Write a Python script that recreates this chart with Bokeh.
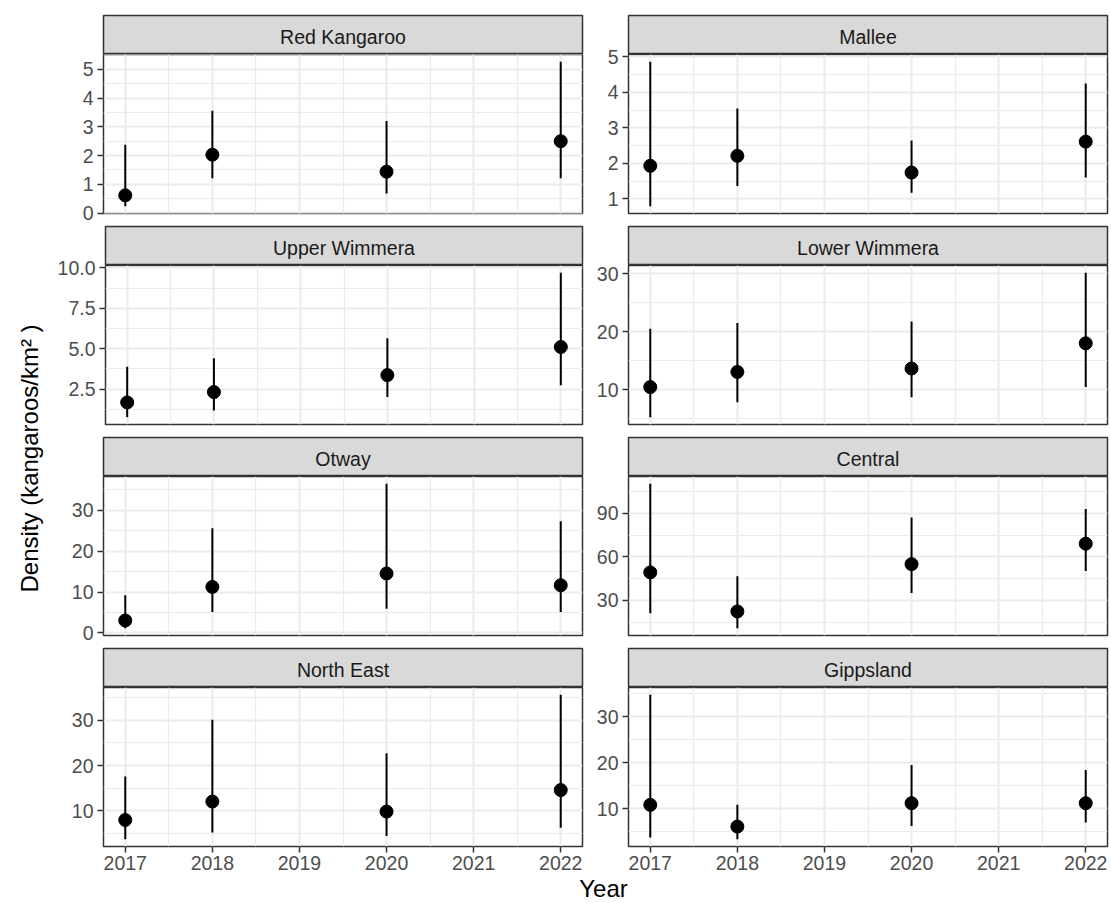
import math
from bokeh.plotting import figure
from bokeh.layouts import row, column
from bokeh.models import Range1d, FixedTicker, LinearAxis, Grid
from bokeh.core.properties import value
from bokeh.embed import file_html
from bokeh.resources import INLINE

# ---------------- data ----------------
years = [2017, 2018, 2020, 2022]
x_ticks = [2017, 2018, 2019, 2020, 2021, 2022]
x_tick_labels = ["2017", "2018", "2019", "2020", "2021", "2022"]
x_minor = [2016.5, 2017.5, 2018.5, 2019.5, 2020.5, 2021.5, 2022.5]

regions = ["Red Kangaroo", "Mallee", "Upper Wimmera", "Lower Wimmera",
           "Otway", "Central", "North East", "Gippsland"]

red_kangaroo_est = [0.62, 2.03, 1.44, 2.50]
red_kangaroo_lo = [0.24, 1.21, 0.68, 1.21]
red_kangaroo_hi = [2.38, 3.56, 3.20, 5.26]

mallee_est = [1.93, 2.21, 1.74, 2.61]
mallee_lo = [0.79, 1.36, 1.17, 1.60]
mallee_hi = [4.86, 3.54, 2.64, 4.25]

upper_wimmera_est = [1.67, 2.31, 3.36, 5.10]
upper_wimmera_lo = [0.75, 1.17, 2.00, 2.73]
upper_wimmera_hi = [3.88, 4.40, 5.65, 9.70]

lower_wimmera_est = [10.45, 13.06, 13.65, 18.0]
lower_wimmera_lo = [5.24, 7.85, 8.70, 10.45]
lower_wimmera_hi = [20.5, 21.5, 21.76, 30.17]

otway_est = [3.06, 11.26, 14.55, 11.67]
otway_lo = [1.15, 5.10, 5.90, 5.10]
otway_hi = [9.2, 25.6, 36.5, 27.3]

central_est = [49.3, 22.4, 55.0, 69.1]
central_lo = [21.2, 10.8, 35.1, 50.2]
central_hi = [110.4, 46.7, 87.2, 93.0]

north_east_est = [8.0, 12.06, 9.85, 14.6]
north_east_lo = [3.75, 5.22, 4.49, 6.30]
north_east_hi = [17.6, 30.1, 22.7, 35.6]

gippsland_est = [10.8, 6.07, 11.16, 11.16]
gippsland_lo = [3.67, 3.30, 6.20, 6.94]
gippsland_hi = [34.8, 10.8, 19.5, 18.4]

y_ticks = {
    "Red Kangaroo": [0, 1, 2, 3, 4, 5],
    "Mallee": [1, 2, 3, 4, 5],
    "Upper Wimmera": [2.5, 5.0, 7.5, 10.0],
    "Lower Wimmera": [10, 20, 30],
    "Otway": [0, 10, 20, 30],
    "Central": [30, 60, 90],
    "North East": [10, 20, 30],
    "Gippsland": [10, 20, 30],
}
y_tick_labels = {
    "Red Kangaroo": ["0", "1", "2", "3", "4", "5"],
    "Mallee": ["1", "2", "3", "4", "5"],
    "Upper Wimmera": ["2.5", "5.0", "7.5", "10.0"],
    "Lower Wimmera": ["10", "20", "30"],
    "Otway": ["0", "10", "20", "30"],
    "Central": ["30", "60", "90"],
    "North East": ["10", "20", "30"],
    "Gippsland": ["10", "20", "30"],
}

series = {
    "Red Kangaroo": (red_kangaroo_est, red_kangaroo_lo, red_kangaroo_hi),
    "Mallee": (mallee_est, mallee_lo, mallee_hi),
    "Upper Wimmera": (upper_wimmera_est, upper_wimmera_lo, upper_wimmera_hi),
    "Lower Wimmera": (lower_wimmera_est, lower_wimmera_lo, lower_wimmera_hi),
    "Otway": (otway_est, otway_lo, otway_hi),
    "Central": (central_est, central_lo, central_hi),
    "North East": (north_east_est, north_east_lo, north_east_hi),
    "Gippsland": (gippsland_est, gippsland_lo, gippsland_hi),
}

y_title = "Density (kangaroos/km\u00b2 )"
x_title = "Year"

# ---------------- style ----------------
FONT = "Liberation Sans"
TICK_SIZE = "19.5px"
STRIP_SIZE = "19.5px"
TITLE_SIZE = "24px"
BORDER = "#333333"
GRIDC = "#EBEBEB"
STRIP_FILL = "#D9D9D9"

YT_W = 54
FRAME_W = 479
FRAME_H = 159
STRIP_H = 39
TOP_PAD = 15
STRIP_TOP = 1
GAP_BOT = 12
AXIS_B = 32
OV = 12   # plot canvas overlaps the strip canvas by this much
OV_X = 16  # x-title canvas overlaps the grid by this much
COLS = [(49, 3), (43, 3)]  # (min_border_left, min_border_right)


def expand(lo, hi, mult=0.05):
    d = (hi - lo) * mult
    return lo - d, hi + d


def make_strip(name, ci, first):
    L, R = COLS[ci]
    top = TOP_PAD if first else STRIP_TOP
    s = figure(width=L + FRAME_W + R, height=top + STRIP_H,
               x_range=Range1d(0, 1), y_range=Range1d(0, 1),
               x_axis_type=None, y_axis_type=None, title=None,
               output_backend="svg", toolbar_location=None,
               min_border_left=L, min_border_right=R,
               min_border_top=top, min_border_bottom=0)
    s.background_fill_color = STRIP_FILL
    s.border_fill_color = "white"
    s.outline_line_color = BORDER
    s.outline_line_width = 1.5
    s.grid.visible = False
    s.text(x=[0.5], y=[0.45], text=[name], text_align="center",
           text_baseline="middle", text_font=value(FONT),
           text_font_size=STRIP_SIZE, text_color="#1A1A1A")
    return s


def make_panel(name, ci, bottom):
    L, R = COLS[ci]
    est, lo, hi = series[name]
    y0, y1 = expand(min(lo + est), max(hi + est))
    x0, x1 = expand(min(years), max(years))
    bb = AXIS_B if bottom else GAP_BOT
    p = figure(width=L + FRAME_W + R, height=OV + FRAME_H + bb,
               x_range=Range1d(x0, x1), y_range=Range1d(y0, y1),
               x_axis_type=None, y_axis_type=None, title=None,
               output_backend="svg", toolbar_location=None,
               min_border_left=L, min_border_right=R, min_border_top=OV,
               min_border_bottom=bb, margin=(-OV, 0, 0, 0))
    p.background_fill_color = "white"
    p.border_fill_color = None
    p.border_fill_alpha = 0
    p.outline_line_color = BORDER
    p.outline_line_width = 1.5

    yt = y_ticks[name]
    step = yt[1] - yt[0]
    yminor = [yt[0] - step / 2] + [t + step / 2 for t in yt]
    yminor = [m for m in yminor if y0 <= m <= y1]
    ytick_in = [t for t in yt if y0 <= t <= y1]
    yticker = FixedTicker(ticks=ytick_in, minor_ticks=yminor)
    xm = [m for m in x_minor if x0 <= m <= x1]
    xticker = FixedTicker(ticks=x_ticks, minor_ticks=xm)

    p.add_layout(Grid(dimension=0, ticker=xticker, grid_line_color=GRIDC,
                      grid_line_width=2, minor_grid_line_color=GRIDC,
                      minor_grid_line_width=1.2), "center")
    p.add_layout(Grid(dimension=1, ticker=yticker, grid_line_color=GRIDC,
                      grid_line_width=2, minor_grid_line_color=GRIDC,
                      minor_grid_line_width=1.2), "center")

    def style(ax):
        ax.axis_line_color = None
        ax.major_tick_line_color = BORDER
        ax.major_tick_line_width = 1.5
        ax.major_tick_in = 0
        ax.major_tick_out = 6
        ax.minor_tick_line_color = None
        ax.major_label_text_color = "#4D4D4D"
        ax.major_label_text_font = FONT
        ax.major_label_text_font_size = TICK_SIZE

    ya = LinearAxis(ticker=yticker,
                    major_label_overrides=dict(zip(yt, y_tick_labels[name])))
    style(ya)
    ya.major_label_standoff = 4
    p.add_layout(ya, "left")
    if bottom:
        xa = LinearAxis(ticker=xticker,
                        major_label_overrides=dict(zip(x_ticks, x_tick_labels)))
        style(xa)
        xa.major_label_standoff = 3
        p.add_layout(xa, "below")

    p.segment(x0=years, y0=lo, x1=years, y1=hi, line_color="black",
              line_width=2)
    p.scatter(x=years, y=est, size=13, color="black")
    return p


rows = []
for r in range(4):
    cells = []
    for c in range(2):
        name = regions[r * 2 + c]
        cells.append(column(make_strip(name, c, r == 0),
                            make_panel(name, c, r == 3)))
    rows.append(row(*cells))
grid = column(*rows)

total_w = YT_W + sum(L + FRAME_W + R for L, R in COLS)
grid_h = (TOP_PAD + STRIP_H + FRAME_H + GAP_BOT
          + 2 * (STRIP_TOP + STRIP_H + FRAME_H + GAP_BOT)
          + STRIP_TOP + STRIP_H + FRAME_H + AXIS_B)

yt_fig = figure(width=YT_W, height=grid_h, x_range=Range1d(0, YT_W),
                y_range=Range1d(0, grid_h), x_axis_type=None, y_axis_type=None,
                title=None, output_backend="svg", toolbar_location=None,
                min_border=0)
yt_fig.outline_line_color = None
yt_fig.grid.visible = False
yt_fig.text(x=[29], y=[grid_h - 458], text=[y_title], angle=math.pi / 2,
            text_align="center", text_baseline="middle",
            text_font=value(FONT), text_font_size=TITLE_SIZE,
            text_color="black")

xt_h = 903 - grid_h + OV_X
xt_fig = figure(width=total_w, height=xt_h, x_range=Range1d(0, total_w),
                y_range=Range1d(0, xt_h), x_axis_type=None, y_axis_type=None,
                title=None, output_backend="svg", toolbar_location=None,
                min_border=0, margin=(-OV_X, 0, 0, 0))
xt_fig.outline_line_color = None
xt_fig.background_fill_color = None
xt_fig.background_fill_alpha = 0
xt_fig.border_fill_color = None
xt_fig.border_fill_alpha = 0
xt_fig.grid.visible = False
xt_fig.text(x=[603], y=[903 - 888], text=[x_title], text_align="center",
            text_baseline="middle", text_font=value(FONT),
            text_font_size=TITLE_SIZE, text_color="black")

layout = column(row(yt_fig, grid), xt_fig)

open("out.html", "w").write(file_html(layout, INLINE))
